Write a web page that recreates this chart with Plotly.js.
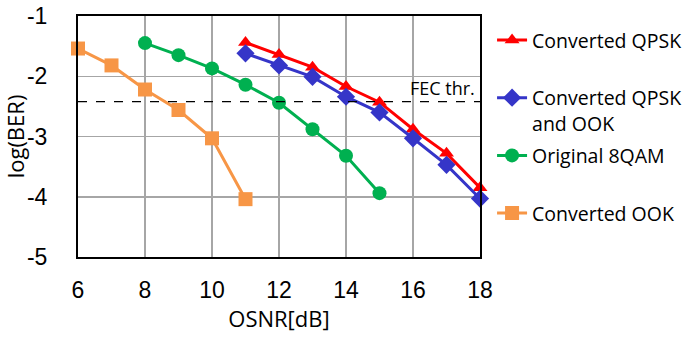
<!DOCTYPE html>
<html>
<head>
<meta charset="utf-8">
<script src="https://cdn.plot.ly/plotly-3.0.1.min.js"></script>
<style>html,body{margin:0;padding:0;background:#fff;}#chart{width:699px;height:337px;}</style>
</head>
<body>
<div id="chart"></div>
<script>
// OSNR [dB] values per series
const osnrQPSK = [11, 12, 13, 14, 15, 16, 17, 18];
const berQPSK = [-1.44, -1.64, -1.85, -2.17, -2.43, -2.88, -3.28, -3.85];

const osnrQPSKOOK = [11, 12, 13, 14, 15, 16, 17, 18];
const berQPSKOOK = [-1.62, -1.82, -2.01, -2.34, -2.6, -3.03, -3.47, -4.03];

const osnr8QAM = [8, 9, 10, 11, 12, 13, 14, 15];
const ber8QAM = [-1.45, -1.65, -1.87, -2.14, -2.44, -2.88, -3.32, -3.94];

const osnrOOK = [6, 7, 8, 9, 10, 11];
const berOOK = [-1.54, -1.82, -2.22, -2.56, -3.03, -4.04];

const fecThreshold = -2.42;

const names = ['Converted QPSK<br> ', 'Converted QPSK<br>and OOK', 'Original 8QAM<br> ', 'Converted OOK'];
const xTicks = [6, 8, 10, 12, 14, 16, 18];
const yTicks = [-1, -2, -3, -4, -5];

const traces = [
  {x: osnrQPSK, y: berQPSK, name: names[0], legendgroup: 'a', type: 'scatter', mode: 'lines+markers', cliponaxis: false,
   line: {color: '#ff0000', width: 3}, marker: {symbol: 'triangle-up', size: 13, color: '#ff0000'}},
  {x: osnrQPSKOOK, y: berQPSKOOK, name: names[1], legendgroup: 'b', type: 'scatter', mode: 'lines+markers', cliponaxis: false,
   line: {color: '#3535c8', width: 3}, marker: {symbol: 'diamond', size: 14, color: '#3535c8'}},
  {x: osnr8QAM, y: ber8QAM, name: names[2], legendgroup: 'c', type: 'scatter', mode: 'lines+markers', cliponaxis: false,
   line: {color: '#00b050', width: 3}, marker: {symbol: 'circle', size: 14, color: '#00b050'}},
  {x: osnrOOK, y: berOOK, name: names[3], legendgroup: 'd', type: 'scatter', mode: 'lines+markers', cliponaxis: false,
   line: {color: '#f79646', width: 3}, marker: {symbol: 'square', size: 14, color: '#f79646'}}
];

const layout = {
  width: 699, height: 337,
  margin: {l: 78, r: 219, t: 16, b: 80},
  paper_bgcolor: '#fff', plot_bgcolor: '#fff',
  showlegend: true,
  hovermode: false,
  font: {family: 'Liberation Sans, Arial, sans-serif', color: '#000'},
  xaxis: {
    range: [6, 18], tickvals: xTicks, ticktext: xTicks.map(String),
    showgrid: true, gridcolor: '#a6a6a6', gridwidth: 1.5,
    showline: true, linecolor: '#000', linewidth: 2, mirror: true,
    zeroline: false, ticks: '', ticklabelstandoff: 11,
    tickfont: {size: 23, family: 'Liberation Sans, Arial, sans-serif'},
    title: {text: 'OSNR[dB]', font: {size: 22, family: 'Open Sans, sans-serif'}, standoff: 4}
  },
  yaxis: {
    range: [-5, -1], tickvals: yTicks, ticktext: yTicks.map(String),
    showgrid: true, gridcolor: '#a6a6a6', gridwidth: 1.5,
    showline: true, linecolor: '#000', linewidth: 2, mirror: true,
    zeroline: false, ticks: '', ticklabelstandoff: 24,
    tickfont: {size: 23, family: 'Liberation Sans, Arial, sans-serif'},
    title: {text: 'log(BER)', font: {size: 22, family: 'Open Sans, sans-serif'}, standoff: 0}
  },
  legend: {
    x: 1.03, xanchor: 'left', y: 0.98, yanchor: 'top',
    font: {family: 'Open Sans, sans-serif', size: 19.5},
    valign: 'top', tracegroupgap: 4, bgcolor: 'rgba(0,0,0,0)'
  },
  shapes: [
    {type: 'line', xref: 'paper', x0: 0, x1: 1, yref: 'y', y0: fecThreshold, y1: fecThreshold,
     line: {color: '#000', width: 1.2, dash: 'dash'}, layer: 'above'}
  ],
  annotations: [
    {xref: 'paper', x: 0.993, xanchor: 'right', yref: 'y', y: fecThreshold, yanchor: 'bottom', yshift: 0,
     text: 'FEC thr.', showarrow: false, font: {family: 'Open Sans, sans-serif', size: 18, color: '#000'}}
  ]
};

Plotly.newPlot('chart', traces, layout, {displayModeBar: false, staticPlot: true});
</script>
</body>
</html>
